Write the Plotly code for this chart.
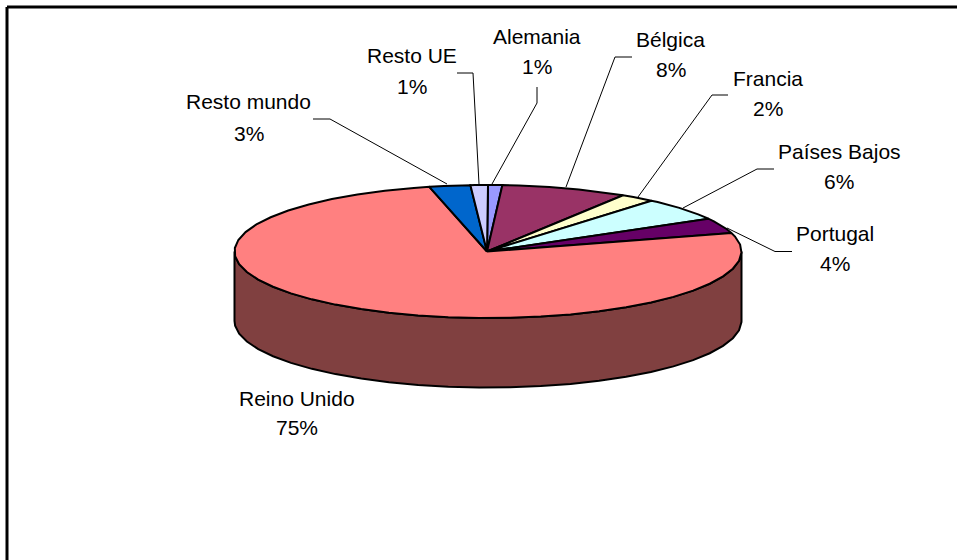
import math
import plotly.graph_objects as go

categories = ["Alemania", "Bélgica", "Francia", "Países Bajos", "Portugal", "Reino Unido", "Resto mundo", "Resto UE"]
values = [0.9, 8.0, 2.2, 5.6, 3.7, 75.4, 2.6, 1.1]
percent_labels = ["1%", "8%", "2%", "6%", "4%", "75%", "3%", "1%"]
colors = ["#9999FF", "#993366", "#FFFFCC", "#CCFFFF", "#660066", "#FF8080", "#0066CC", "#CCCCFF"]
side_color = "#804040"

# Layout of the tilted pie, in page pixels
CX, CY, RX, RY, DEPTH = 488, 251.5, 253.5, 66.5, 69.5
STEP = 7.0
FONT = "Liberation Sans"
FS = 21

label_x = [537, 670.5, 768, 839, 835, 297, 248.5, 412]
name_y = [36, 39, 78, 151, 233, 398, 101, 55]
pct_y = [66, 69, 108, 181, 263, 427, 133, 86]
leaders = {
    "Alemania": ([537, 537, 492], [87, 103, 184]),
    "Bélgica": ([632, 615, 566], [57, 57, 187]),
    "Francia": ([728, 712, 638], [95, 95, 197]),
    "Países Bajos": ([774, 757, 683], [169, 169, 208]),
    "Portugal": ([792, 775, 727], [251.5, 251.5, 228]),
    "Resto mundo": ([313, 330, 447], [119, 119, 184]),
    "Resto UE": ([457, 473, 479], [73, 73, 184]),
}


def pt(t_deg, dy=0.0):
    t = math.radians(t_deg)
    return CX + RX * math.sin(t), CY - RY * math.cos(t) + dy


def arc(a, b, dy=0.0):
    xs, ys = [], []
    k = math.ceil(a / STEP)
    angles = [a] + [k * STEP + i * STEP for i in range(int((b - a) / STEP) + 2) if a < k * STEP + i * STEP < b] + [b]
    for t in angles:
        x, y = pt(t, dy)
        xs.append(x)
        ys.append(y)
    return xs, ys


fig = go.Figure()

# Side wall (front half of the rim), closed so both vertical edges are stroked
tx, ty = arc(90, 270)
bx, by = arc(90, 270, DEPTH)
fig.add_trace(go.Scatter(
    x=tx + bx[::-1] + tx[:1], y=ty + by[::-1] + ty[:1], mode="lines", fill="toself", fillcolor=side_color,
    line=dict(color="black", width=2), hoverinfo="skip", showlegend=False))

# Top face slices, clockwise from twelve o'clock
total = sum(values)
cum = 0.0
for name, v, c in zip(categories, values, colors):
    a = 360 * cum / total
    b = 360 * (cum + v) / total
    cum += v
    xs, ys = arc(a, b)
    fig.add_trace(go.Scatter(
        x=[CX - 1] + xs + [CX - 1], y=[CY] + ys + [CY], mode="lines", fill="toself", fillcolor=c,
        line=dict(color="black", width=2), name=name, hoverinfo="name", showlegend=False))

# Leader lines
for name, (lx, ly) in leaders.items():
    fig.add_trace(go.Scatter(x=lx, y=ly, mode="lines", line=dict(color="black", width=1),
                             hoverinfo="skip", showlegend=False))

# Labels
annotations = []
for name, p, x, y1, y2 in zip(categories, percent_labels, label_x, name_y, pct_y):
    for txt, y in ((name, y1), (p, y2)):
        annotations.append(dict(x=x, y=y, text=txt, showarrow=False, xanchor="center", yanchor="middle",
                                font=dict(family=FONT, size=FS, color="black")))

# Chart frame: only top and left edges lie inside the picture
shapes = [
    dict(type="line", x0=7, x1=957, y0=7, y1=7, line=dict(color="black", width=3)),
    dict(type="line", x0=7, x1=7, y0=7, y1=560, line=dict(color="black", width=3)),
]

fig.update_layout(
    width=957, height=560, margin=dict(l=0, r=0, t=0, b=0),
    paper_bgcolor="white", plot_bgcolor="white", showlegend=False,
    xaxis=dict(range=[0, 957], visible=False, fixedrange=True),
    yaxis=dict(range=[560, 0], visible=False, fixedrange=True),
    annotations=annotations, shapes=shapes,
)
fig.write_html("out.html", config=dict(displayModeBar=False),
               post_script="document.body.style.margin='0';document.documentElement.style.overflow='hidden';")
